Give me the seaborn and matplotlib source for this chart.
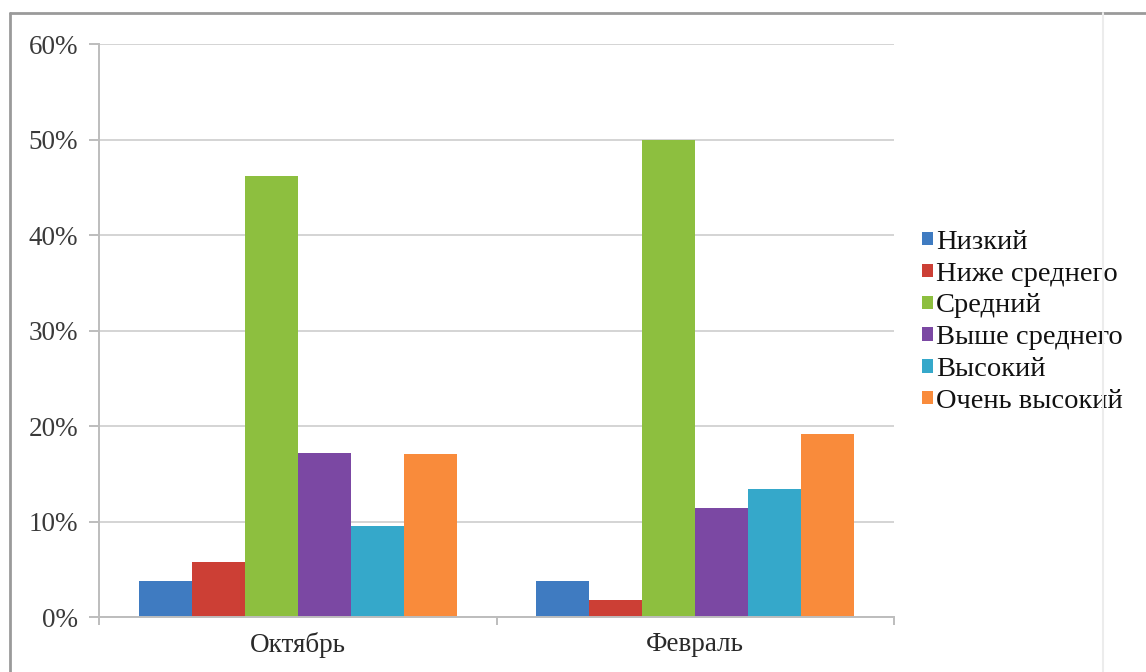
import matplotlib
matplotlib.use("Agg")
import matplotlib.pyplot as plt
from matplotlib.ticker import FixedLocator, FuncFormatter
from matplotlib.lines import Line2D
import seaborn as sns
import pandas as pd

# Survey results: share of pupils at each level, in percent
months = ["Октябрь", "Февраль"]
levels = ["Низкий", "Ниже среднего", "Средний", "Выше среднего", "Высокий", "Очень высокий"]
october = [3.8, 5.8, 46.2, 17.2, 9.5, 17.1]
february = [3.8, 1.8, 49.9, 11.4, 13.4, 19.2]
yticks = [0, 10, 20, 30, 40, 50, 60]

colors = ["#3F7BC1", "#CC3F35", "#8DBF3F", "#7B48A3", "#35A8CA", "#F98B3B"]

df = pd.DataFrame({
    "month": [m for m in months for _ in levels],
    "level": levels * len(months),
    "share": october + february,
})

sns.set_theme(style="white")
plt.rcParams["font.family"] = ["Liberation Serif", "DejaVu Serif"]
FS = 19.5
LEG_FS = 20.5

fig = plt.figure(figsize=(11.46, 6.72), dpi=100)
ax = fig.add_axes([0.0864, 0.0818, 0.6937, 0.8527])

sns.barplot(data=df, x="month", y="share", hue="level", order=months,
            hue_order=levels, palette=colors, saturation=1, width=0.8,
            linewidth=0, ax=ax, legend=True)

ax.set_ylim(0, 60)
ax.set_xlim(-0.5, 1.5)
ax.yaxis.set_major_locator(FixedLocator(yticks))
ax.yaxis.set_major_formatter(FuncFormatter(lambda v, p: f"{v:.0f}%"))
ax.grid(axis="y", color="#d4d4d4", linewidth=1.4)
ax.set_axisbelow(True)
ax.set_xlabel("")
ax.set_ylabel("")

for side in ("top", "right"):
    ax.spines[side].set_visible(False)
for side in ("left", "bottom"):
    ax.spines[side].set_color("#bdbdbd")
    ax.spines[side].set_linewidth(1.4)

ax.tick_params(axis="y", which="major", left=True, length=7, width=1.4,
               color="#bdbdbd", pad=8, labelsize=FS, labelcolor="#3a3a3a")
ax.tick_params(axis="x", which="major", bottom=False, pad=5,
               labelsize=FS, labelcolor="#2a2a2a")
# Category separators on the horizontal axis
ax.xaxis.set_minor_locator(FixedLocator([-0.5, 0.5, 1.5]))
ax.tick_params(axis="x", which="minor", bottom=True, length=6, width=1.4,
               color="#bdbdbd")

handles, labels = ax.get_legend_handles_labels()
ax.legend(handles, labels, loc="center left",
          bbox_to_anchor=(0.8045, 0.521), bbox_transform=fig.transFigure,
          frameon=False, fontsize=LEG_FS, handlelength=0.4, handleheight=0.35,
          handletextpad=0.1, labelspacing=0.24, borderpad=0, borderaxespad=0,
          labelcolor="#111111")

# Outer frame around the chart
fig.add_artist(Line2D([10 / 1146, 1.0], [1 - 13 / 672, 1 - 13 / 672],
                      transform=fig.transFigure, color="#9a9a9a", linewidth=2))
fig.add_artist(Line2D([10 / 1146, 10 / 1146], [0, 1 - 13 / 672],
                      transform=fig.transFigure, color="#9a9a9a", linewidth=2))
fig.add_artist(Line2D([1103 / 1146, 1103 / 1146], [0, 1 - 13 / 672],
                      transform=fig.transFigure, color="#ececec", linewidth=1.5))

fig.savefig("out.png", dpi=100)
